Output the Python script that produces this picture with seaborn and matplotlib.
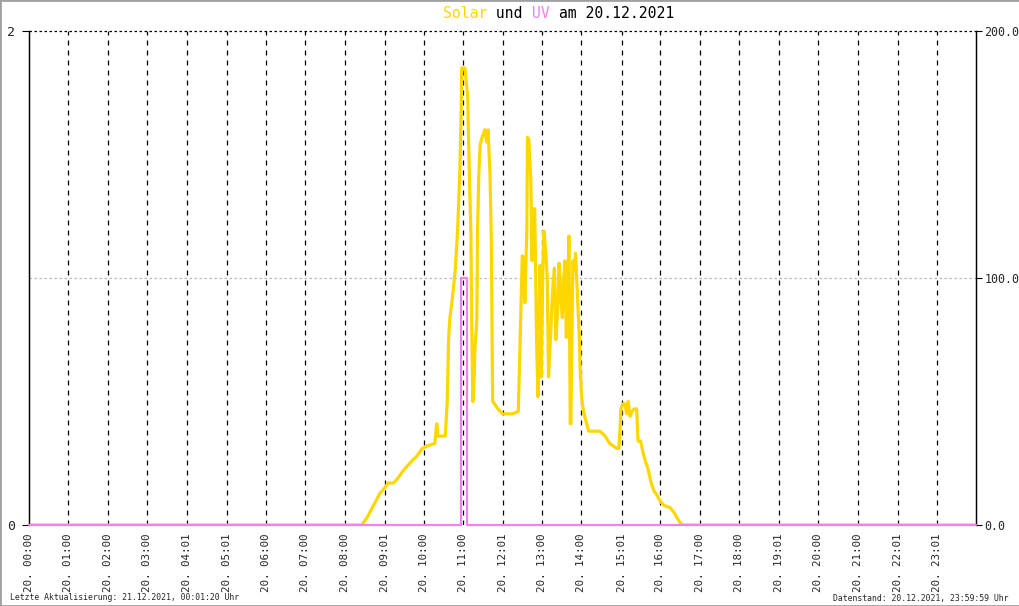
import matplotlib
matplotlib.use("Agg")
import matplotlib.pyplot as plt
from matplotlib.patches import Rectangle
import seaborn as sns
import pandas as pd

solar_time = ["00:00", "08:26", "08:34", "08:42", "08:46", "08:54", "09:01", "09:06", "09:14",
              "09:21", "09:29", "09:39", "09:50", "09:58", "10:05", "10:17", "10:20", "10:22",
              "10:33", "10:36", "10:38", "10:40", "10:43", "10:45", "10:48", "10:50", "10:52",
              "10:55", "10:57", "10:58", "11:03", "11:05", "11:07", "11:09", "11:12", "11:13",
              "11:15", "11:17", "11:18", "11:21", "11:22", "11:24", "11:26", "11:29", "11:33",
              "11:36", "11:38", "11:41", "11:43", "11:45", "11:48", "11:53", "12:00", "12:15",
              "12:24", "12:26", "12:28", "12:30", "12:32", "12:34", "12:37", "12:38", "12:40",
              "12:43", "12:45", "12:46", "12:49", "12:51", "12:52", "12:54", "12:56", "12:57",
              "12:59", "13:01", "13:03", "13:06", "13:08", "13:10", "13:13", "13:15", "13:17",
              "13:19", "13:21", "13:24", "13:26", "13:29", "13:31", "13:33", "13:35", "13:37",
              "13:39", "13:41", "13:43", "13:44", "13:47", "13:49", "13:51", "13:53", "13:55",
              "13:57", "13:58", "14:00", "14:02", "14:04", "14:08", "14:11", "14:13", "14:28",
              "14:36", "14:43", "14:54", "14:57", "14:59", "15:00", "15:03", "15:06", "15:09",
              "15:11", "15:14", "15:17", "15:20", "15:24", "15:26", "15:30", "15:34", "15:37",
              "15:41", "15:46", "15:50", "15:55", "15:59", "16:05", "16:15", "16:21", "16:25",
              "16:30", "16:34", "24:00"]
solar_val = [0, 0, 3, 7, 9, 13, 15, 17, 17,
             19, 22, 25, 28, 31, 32, 33, 41, 36,
             36, 50, 75, 84, 90, 95, 103, 111, 121,
             142, 165, 185, 185, 179, 174, 149, 117, 84,
             50, 60, 71, 83, 119, 142, 154, 157, 160,
             155, 160, 142, 115, 50, 49, 47, 45, 45,
             46, 66, 88, 109, 108, 90, 119, 157, 156,
             140, 107, 128, 128, 90, 72, 52, 90, 105,
             60, 98, 119, 110, 100, 60, 76, 88, 98,
             104, 75, 87, 106, 91, 84, 100, 107, 76,
             88, 117, 41, 41, 107, 103, 110, 98, 87,
             75, 64, 53, 48, 45, 41, 38, 38, 38,
             36, 33, 31, 31, 40, 47, 49, 49, 45,
             50, 44, 46, 47, 47, 34, 34, 29, 26,
             23, 17, 14, 12, 10, 8, 7, 5, 3,
             1, 0, 0]

# UV-Index (linke Achse)
uv_time = ["00:00", "10:57", "11:06", "24:00"]
uv_val = [0, 1, 0, 0]

tick_labels = ["20. 00:00", "20. 01:00", "20. 02:00", "20. 03:00", "20. 04:01", "20. 05:01",
               "20. 06:00", "20. 07:00", "20. 08:00", "20. 09:01", "20. 10:00", "20. 11:00",
               "20. 12:01", "20. 13:00", "20. 14:00", "20. 15:01", "20. 16:00", "20. 17:00",
               "20. 18:00", "20. 19:01", "20. 20:00", "20. 21:00", "20. 22:01", "20. 23:01"]


def to_hours(t):
    h, m = t.split(":")
    return int(h) + int(m) / 60.0


solar = pd.DataFrame({"h": [to_hours(t) for t in solar_time], "v": solar_val})
uv = pd.DataFrame({"h": [to_hours(t) for t in uv_time], "v": uv_val})
tick_pos = [to_hours(s.split(" ")[1]) for s in tick_labels]

sns.set_style("white")
plt.rcParams["font.family"] = ["DejaVu Sans Mono", "DejaVu Sans"]

fig = plt.figure(figsize=(10.2, 6.06), dpi=100)
ax = fig.add_axes([29 / 1020, 1 - 525 / 606, 947 / 1020, 494 / 606])
ax2 = ax.twinx()

sns.lineplot(data=solar, x="h", y="v", ax=ax2, color="#FFD700", lw=2.3,
             estimator=None, sort=False, legend=False, zorder=3)
sns.lineplot(data=uv, x="h", y="v", ax=ax, color="#EE82EE", lw=1.6,
             estimator=None, sort=False, legend=False, drawstyle="steps-post",
             zorder=3, clip_on=False)

ax.set_zorder(ax2.get_zorder() + 1)
ax.patch.set_visible(False)

ax.set_xlim(0, 24)
ax.set_ylim(0, 2)
ax2.set_ylim(0, 200)

ax.set_xticks(tick_pos)
ax.set_xticklabels(tick_labels, rotation=90, fontsize=7.8)
ax.set_yticks([0, 2])
ax.set_yticklabels(["0", "2"], fontsize=9.5)
ax2.set_yticks([0, 100, 200])
ax2.set_yticklabels(["0.0", "100.0", "200.0"], fontsize=8.4)
for a in (ax, ax2):
    a.set_xlabel("")
    a.set_ylabel("")

ax.tick_params(axis="x", direction="in", length=4, width=0.8, color="black", pad=6)
ax.tick_params(axis="y", direction="out", length=5, width=0.8, color="black", pad=5, left=True)
ax2.tick_params(axis="y", direction="out", length=4, width=0.8, color="black", pad=2, right=True)

# Gitter
for p in tick_pos[1:]:
    ax2.axvline(p, color="black", lw=0.9, linestyle=(0, (4, 4)), zorder=0)
ax2.axhline(100, color="#b8b8b8", lw=0.9, linestyle=(0, (2, 2)), zorder=0)
ax2.axhline(200, color="black", lw=0.9, linestyle=(0, (2, 2)), zorder=0, clip_on=False)

for a in (ax, ax2):
    a.spines["top"].set_visible(False)
    a.spines["bottom"].set_visible(False)
    for s in ("left", "right"):
        a.spines[s].set_color("black")
        a.spines[s].set_linewidth(0.9)

# Titel in Farben
title_parts = [("Solar", "#FFD700"), (" und ", "black"), ("UV", "#EE82EE"), (" am 20.12.2021", "black")]
cw = 8.9
x0 = 443
for txt, col in title_parts:
    fig.text(x0 / 1020, 1 - 14 / 606, txt, color=col, fontsize=10.6, ha="left", va="center",
             family="DejaVu Sans Mono")
    x0 += cw * len(txt)

fig.text(10 / 1020, 1 - 598 / 606, "Letzte Aktualisierung: 21.12.2021, 00:01:20 Uhr",
         fontsize=5.9, ha="left", va="center")
fig.text(1009 / 1020, 1 - 598 / 606, "Datenstand: 20.12.2021, 23:59:59 Uhr",
         fontsize=5.9, ha="right", va="center")

fig.patches.append(Rectangle((0, 0), 1, 1, transform=fig.transFigure, fill=False,
                             edgecolor="#a0a0a0", lw=2))

fig.savefig("out.png", dpi=100)
